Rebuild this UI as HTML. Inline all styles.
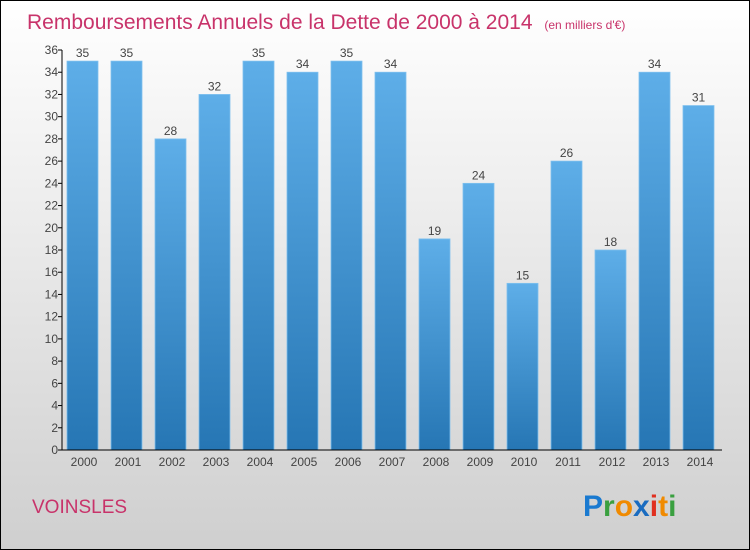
<!DOCTYPE html>
<html><head><meta charset="utf-8"><style>
body{margin:0}
#wrap{width:750px;height:550px;position:relative;box-sizing:border-box;border:1px solid #000;background:linear-gradient(#ffffff,#cfcfcf);font-family:"Liberation Sans",sans-serif;overflow:hidden}
</style></head><body>
<div id="wrap">
<svg width="750" height="550" style="position:absolute;left:-1px;top:-1px">
<defs><linearGradient id="bg" x1="0" y1="0" x2="0" y2="1"><stop offset="0" stop-color="#5eaee8"/><stop offset="1" stop-color="#2676b4"/></linearGradient></defs>
<text x="27" y="29" font-size="21" fill="#c8336a">Remboursements Annuels de la Dette de 2000 à 2014 <tspan font-size="12" dx="6">(en milliers d'€)</tspan></text>
<g id="plot"></g>
<text x="32" y="513" font-size="19" fill="#c8336a">VOINSLES</text>
<g font-size="30" font-weight="bold" font-family="'Liberation Sans',sans-serif">
<text x="583" y="516" fill="#1a7ad0">P<tspan fill="#3aa040">r</tspan><tspan fill="#f08a00">o</tspan><tspan fill="#1a6cc0">x</tspan><tspan fill="#e03020">i</tspan><tspan fill="#f08a00">t</tspan><tspan fill="#3aa040">i</tspan></text>
</g>
</svg>
</div>
<script>
const years=["2000","2001","2002","2003","2004","2005","2006","2007","2008","2009","2010","2011","2012","2013","2014"];
const values=[35,35,28,32,35,34,35,34,19,24,15,26,18,34,31];
const ticks=[0,2,4,6,8,10,12,14,16,18,20,22,24,26,28,30,32,34,36];
const NS="http://www.w3.org/2000/svg";
const g=document.getElementById('plot');
const x0=62,x1=722,y0=450,y1=50,ymax=36;
const band=(x1-x0)/years.length;
const y=v=>y0-(v/ymax)*(y0-y1);
function mk(t,a){const e=document.createElementNS(NS,t);for(const k in a)e.setAttribute(k,a[k]);g.appendChild(e);return e;}
values.forEach((v,i)=>{
 const bx=x0+i*band+5;
 const r=mk('rect',{x:bx,y:y(v),width:31,height:y0-y(v),fill:'url(#bg)',stroke:'#7fc0ee','stroke-width':0.8});
 
 
 const t=mk('text',{x:bx+15.5,y:y(v)-4,'text-anchor':'middle','font-size':12,fill:'#444'});
 t.textContent=v;
 
 
 const xl=mk('text',{x:x0+i*band+band/2,y:y0+16,'text-anchor':'middle','font-size':12,fill:'#444'});
 xl.textContent=years[i];
 
 
});
ticks.forEach(v=>{
 mk('line',{x1:x0-4,x2:x0,y1:y(v),y2:y(v),stroke:'#000'});
 const t=mk('text',{x:x0-4,y:y(v)+4,'text-anchor':'end','font-size':12,fill:'#444'});
 t.textContent=v;
 
 
});
const ya=mk('line',{x1:x0,x2:x0,y1:y1,y2:y0,stroke:'#000'});


const xa=mk('line',{x1:x0,x2:x1,y1:y0,y2:y0,stroke:'#000'});


</script>
</body></html>
